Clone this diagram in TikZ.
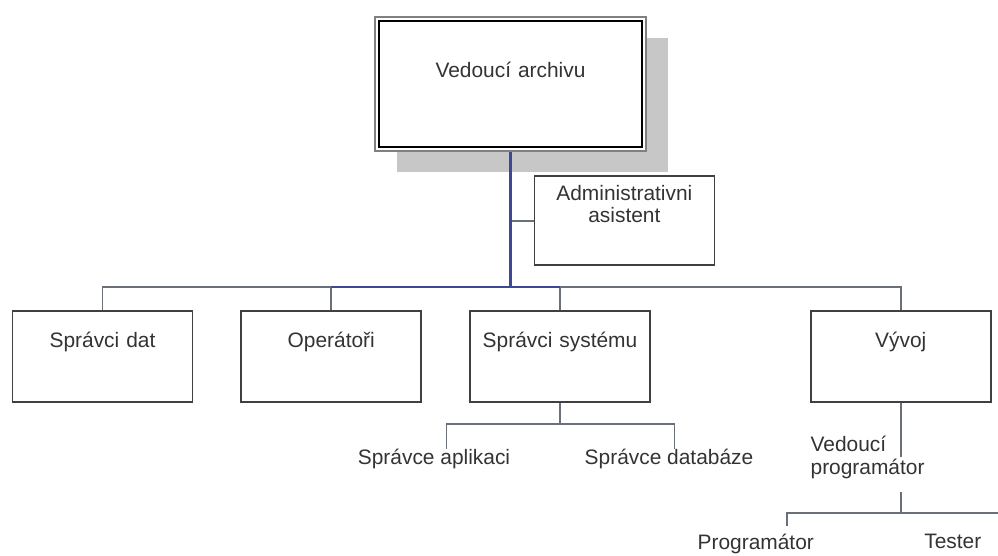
\documentclass[tikz,border=0pt]{standalone}
\usepackage{fontspec}
\setmainfont{Liberation Sans}
\usetikzlibrary{positioning,shadows}

\definecolor{linkgray}{RGB}{105,112,122}
\definecolor{linkblue}{RGB}{62,72,150}

\begin{document}
\begin{tikzpicture}[
            box/.style={draw=black!75, line width=1pt, fill=white, rectangle, inner sep=0pt, text width=3.6cm, align=center, text height=0.74cm, text depth=1.08cm, font=\fontsize{11.9}{12.8}\selectfont, text=black!80},
            headbox/.style={box, draw=black!50, line width=1.7pt, text width=5.42cm, text height=1.22cm, text depth=1.46cm, drop shadow={shadow xshift=0.44cm, shadow yshift=-0.42cm, opacity=1, fill=black!22}},
            tag/.style={inner sep=0pt, font=\fontsize{11.9}{12.8}\selectfont, text=black!80},
            link/.style={draw=linkgray, line width=1pt},
            hub/.style={draw=linkblue, line width=1.2pt}
        ]

        \useasboundingbox (0,0) rectangle (19.96,-11.12);
        \clip (0,0) rectangle (19.96,-11.12);

        % Kästen
        \node[headbox] (head) at (10.21,-1.68) {Vedoucí archivu};
        \draw[black, line width=1pt] ([shift={(0.11cm,-0.11cm)}]head.north west) rectangle ([shift={(-0.11cm,0.11cm)}]head.south east);
        \node[box, text height=0.48cm, text depth=1.3cm, below right=0.46cm and 0.46cm of head.south] (adm) {Administrativni\\asistent};

        \node[box] (dat) at (2.05,-7.13) {Správci dat};
        \node[box, right=0.94cm of dat] (ope) {Operátoři};
        \node[box, right=0.94cm of ope] (sys) {Správci systému};
        \node[box, right=3.18cm of sys] (vyv) {Vývoj};

        % Beschriftungen ohne Rahmen
        \node[tag, below=0.92cm of sys.south, xshift=-2.52cm] (apl) {Správce aplikaci};
        \node[tag, below=0.92cm of sys.south, xshift=2.18cm] (dbs) {Správce databáze};
        \node[tag, align=left, anchor=north west] (lead) at ([xshift=-1.81cm, yshift=-0.66cm]vyv.south) {Vedoucí\\programátor};
        \coordinate[below=2.2cm of vyv.south] (vyvfork);
        \node[tag, below=0.42cm of vyvfork, xshift=-2.9cm] (prog) {Programátor};
        \node[tag, below=0.42cm of vyvfork, xshift=1.04cm] (tst) {Tester};

        % Linien
        \coordinate (bus) at ([yshift=0.46cm]dat.north -| head.south);
        \coordinate[below=0.42cm of sys.south] (sysfork);

        \draw[link] (adm.west) -- (adm.west -| head.south);
        \draw[link] (dat.north) |- (ope.north |- bus) -- (ope.north);
        \draw[link] (sys.north) |- (vyv.north |- bus) -- (vyv.north);
        \draw[hub] (ope.north |- bus) -- (sys.north |- bus);
        \draw[hub] (head.south) -- (bus);

        \draw[link] (sys.south) -- (sysfork);
        \draw[link] ([xshift=0.25cm]apl.north) |- (sysfork) -| ([xshift=0.11cm]dbs.north);

        \draw[link] (vyv.south) -- (vyv.south |- lead.center);
        \draw[link] ([yshift=-0.26cm]vyv.south |- lead.south) -- (vyvfork);
        \draw[link, shorten <=0.16cm] ([xshift=0.62cm]prog.north) |- (vyvfork) -| ([xshift=1.24cm]tst.north);

\end{tikzpicture}
\end{document}
